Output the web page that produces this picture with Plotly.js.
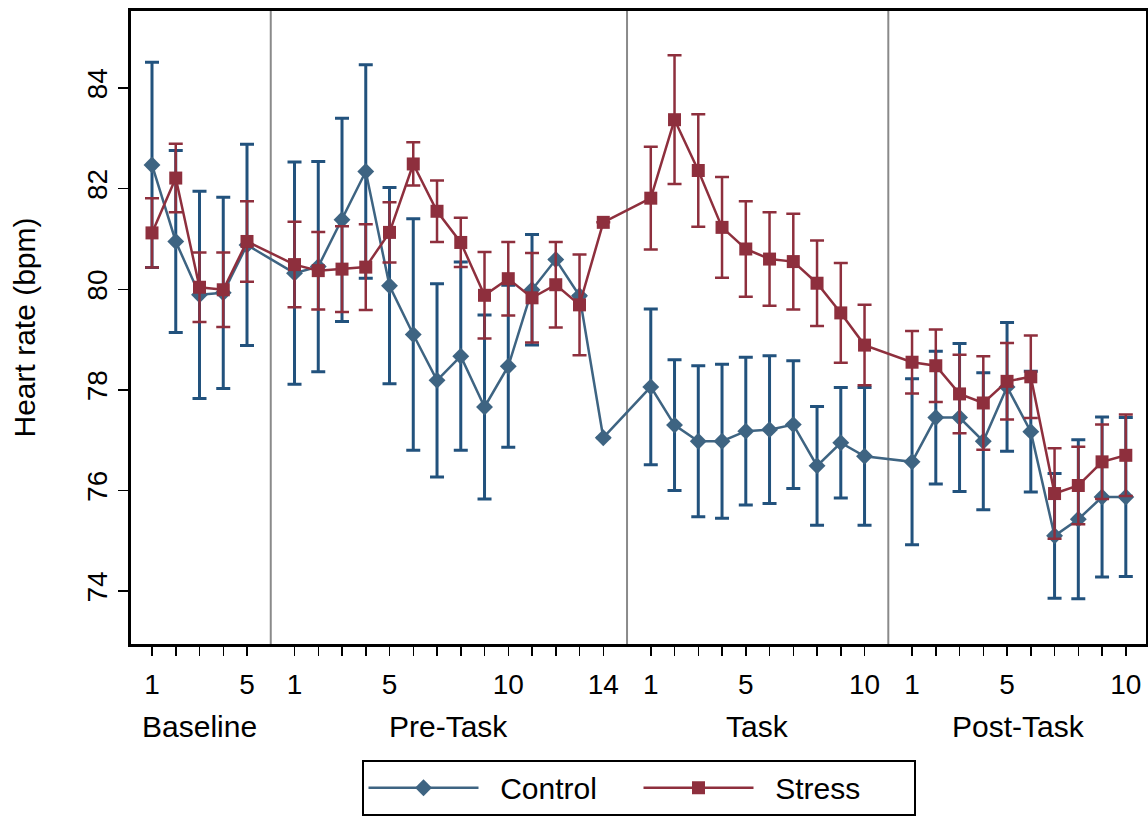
<!DOCTYPE html>
<html>
<head>
<meta charset="utf-8">
<script src="https://cdn.plot.ly/plotly-3.0.1.min.js"></script>
<style>
html,body{margin:0;padding:0;background:#fff;}
#chart{width:1148px;height:817px;}
</style>
</head>
<body>
<div id="chart"></div>
<script>
// ---- Data ----
const phases = ["Baseline", "Pre-Task", "Task", "Post-Task"];
const phaseLengths = [5, 14, 10, 10];
const labelledIndices = [[1, 5], [1, 5, 10, 14], [1, 5, 10], [1, 5, 10]];
const seriesNames = ["Control", "Stress"];

const controlMean = [
  82.47, 80.95, 79.89, 79.93, 80.88,
  80.32, 80.45, 81.38, 82.34, 80.07, 79.10, 78.19, 78.67, 77.66, 78.47, 79.99, 80.59, 79.87, 77.05,
  78.06, 77.30, 76.98, 76.98, 77.18, 77.21, 77.31, 76.49, 76.95, 76.68,
  76.57, 77.45, 77.45, 76.98, 78.06, 77.17, 75.10, 75.43, 75.87, 75.87
];
const controlErr = [
  2.04, 1.81, 2.06, 1.90, 2.00,
  2.21, 2.09, 2.02, 2.12, 1.95, 2.30, 1.92, 1.87, 1.83, 1.61, 1.10, 0, 0, 0,
  1.55, 1.30, 1.50, 1.53, 1.47, 1.47, 1.27, 1.18, 1.10, 1.37,
  1.65, 1.32, 1.47, 1.36, 1.28, 1.20, 1.24, 1.58, 1.59, 1.58
];
const stressMean = [
  81.12, 82.21, 80.04, 79.99, 80.95,
  80.49, 80.37, 80.40, 80.44, 81.13, 82.49, 81.55, 80.93, 79.88, 80.21, 79.83, 80.09, 79.69, 81.33,
  81.81, 83.37, 82.36, 81.23, 80.80, 80.60, 80.55, 80.12, 79.53, 78.89,
  78.55, 78.48, 77.92, 77.74, 78.17, 78.26, 75.94, 76.10, 76.57, 76.70
];
const stressErr = [
  0.69, 0.68, 0.69, 0.74, 0.80,
  0.85, 0.77, 0.85, 0.85, 0.60, 0.43, 0.61, 0.49, 0.86, 0.73, 0.89, 0.85, 1.00, 0,
  1.02, 1.28, 1.12, 1.00, 0.95, 0.93, 0.95, 0.85, 0.99, 0.80,
  0.62, 0.72, 0.78, 0.93, 0.76, 0.82, 0.90, 0.77, 0.74, 0.81
];
const yTicks = [74, 76, 78, 80, 82, 84];

// ---- Positions (one empty slot between phases) ----
const xPos = [], tickText = [], separators = [], phaseCenters = [];
let pos = 1;
phaseLengths.forEach((n, g) => {
  const start = pos;
  for (let i = 1; i <= n; i++) {
    xPos.push(pos);
    tickText.push(labelledIndices[g].includes(i) ? String(i) : "");
    pos++;
  }
  phaseCenters.push((start + pos - 1) / 2);
  if (g < phaseLengths.length - 1) { separators.push(pos); pos++; }
});

const FONT = "Liberation Sans, Arial, sans-serif";
const blueLine = "#3E6482", blueErr = "#22527D";
const redLine = "#8E2F3D", redErr = "#8E2F3D";
const pad = "\u00A0\u00A0";

const traces = [
  {
    x: xPos, y: controlMean, name: pad + seriesNames[0], type: "scatter", mode: "lines+markers",
    line: {color: blueLine, width: 2.5},
    marker: {symbol: "diamond", size: 13, color: blueLine},
    error_y: {type: "data", array: controlErr, visible: true, color: blueErr, thickness: 3, width: 7}
  },
  {
    x: xPos, y: stressMean, name: pad + seriesNames[1], type: "scatter", mode: "lines+markers",
    line: {color: redLine, width: 2.5},
    marker: {symbol: "square", size: 13, color: redLine},
    error_y: {type: "data", array: stressErr, visible: true, color: redErr, thickness: 2.5, width: 7}
  }
];

const shapes = separators.map(s => ({
  type: "line", xref: "x", yref: "paper", x0: s, x1: s, y0: 0, y1: 1,
  line: {color: "#8a8a8a", width: 2}, layer: "below"
}));

const annotations = phases.map((p, i) => ({
  text: p, x: phaseCenters[i], xref: "x", y: -0.131, yref: "paper",
  yanchor: "middle", xanchor: "center", showarrow: false,
  font: {family: FONT, size: 30, color: "#000"}
}));

const layout = {
  width: 1148, height: 817,
  margin: {l: 131, r: 2, t: 11, b: 172},
  paper_bgcolor: "#fff", plot_bgcolor: "#fff",
  showlegend: true,
  xaxis: {
    range: [0.116, 42.85], tickvals: xPos, ticktext: tickText,
    ticks: "outside", ticklen: 9, tickwidth: 1.5, tickcolor: "#000",
    showgrid: false, zeroline: false,
    showline: true, linecolor: "#000", linewidth: 3, mirror: true,
    ticklabelstandoff: 4,
    tickfont: {family: FONT, size: 28, color: "#000"}
  },
  yaxis: {
    range: [72.95, 85.53], tickvals: yTicks,
    ticks: "outside", ticklen: 10, tickwidth: 1.5, tickcolor: "#000",
    tickangle: -90,
    showgrid: false, zeroline: false,
    showline: true, linecolor: "#000", linewidth: 3, mirror: true,
    tickfont: {family: FONT, size: 28, color: "#000"},
    title: {text: "Heart rate (bpm)", font: {family: FONT, size: 30, color: "#000"}, standoff: 38}
  },
  legend: {
    orientation: "h", x: 0.5, xanchor: "center", y: -0.181, yanchor: "top",
    bordercolor: "#000", borderwidth: 2, bgcolor: "#fff",
    font: {family: FONT, size: 30, color: "#000"},
    itemwidth: 110, entrywidth: 150
  },
  shapes: shapes,
  annotations: annotations
};

Plotly.newPlot("chart", traces, layout, {displayModeBar: false, staticPlot: true});
</script>
</body>
</html>
